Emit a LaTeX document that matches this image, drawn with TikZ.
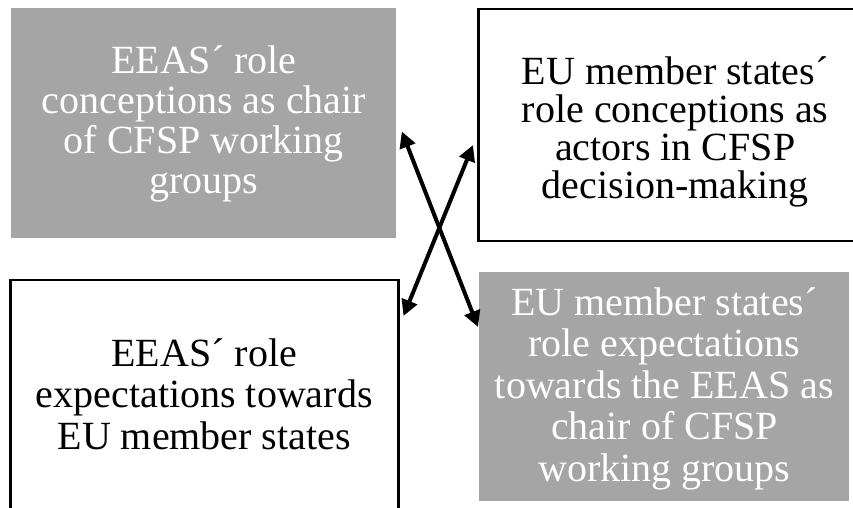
\documentclass[tikz,border=0pt]{standalone}
\usepackage{fontspec}
\setmainfont{Liberation Serif}
\usetikzlibrary{arrows.meta,calc}
\definecolor{boxgray}{RGB}{165,165,165}

\begin{document}
\begin{tikzpicture}[x=0.5pt,y=-0.5pt,
    box/.style={anchor=north west,inner sep=0pt,align=flush center,
      font=\fontsize{20pt}{20pt}\selectfont},
    graybox/.style={box,fill=boxgray,text=white},
    whitebox/.style={box,draw=black,line width=1.25pt,fill=white},
    link/.style={{Triangle[length=8pt,width=8pt]}-{Triangle[length=8pt,width=8pt]},
      line width=2pt}]
  \useasboundingbox (0,0) rectangle (853,508);
  \clip (0,0) rectangle (853,508);

  \node[graybox,text width=192.5pt,text height=32.5pt,text depth=82.5pt]
    (tl) at (11,8) {EEAS´ role\\conceptions as chair\\of CFSP working\\groups};
  \node[whitebox,text width=197pt,text height=37.5pt,text depth=78.5pt,
      font=\fontsize{20pt}{19pt}\selectfont]
    (tr) at (477,8) {EU member states´\\role conceptions as\\actors in CFSP\\decision-making};
  \node[whitebox,text width=194pt,text height=43pt,text depth=130pt,
      font=\fontsize{20pt}{20.75pt}\selectfont]
    (bl) at (9,279) {EEAS´ role\\expectations towards\\EU member states};
  \node[graybox,text width=185pt,text height=21.5pt,text depth=93pt,
      font=\fontsize{20pt}{20.75pt}\selectfont]
    (br) at (479,272) {EU member states´\\role expectations\\towards the EEAS as\\chair of CFSP\\working groups};

  \coordinate (tl-end) at ($(tl.north east)+(5,123.5)$);
  \coordinate (br-end) at ($(br.north west)+(-1,55)$);
  \coordinate (tr-end) at ($(tr.north west)+(-4,137)$);
  \coordinate (bl-end) at ($(bl.north east)+(4,37)$);
  \draw[link] (tl-end) -- (br-end);
  \draw[link] (tr-end) -- (bl-end);
\end{tikzpicture}
\end{document}
